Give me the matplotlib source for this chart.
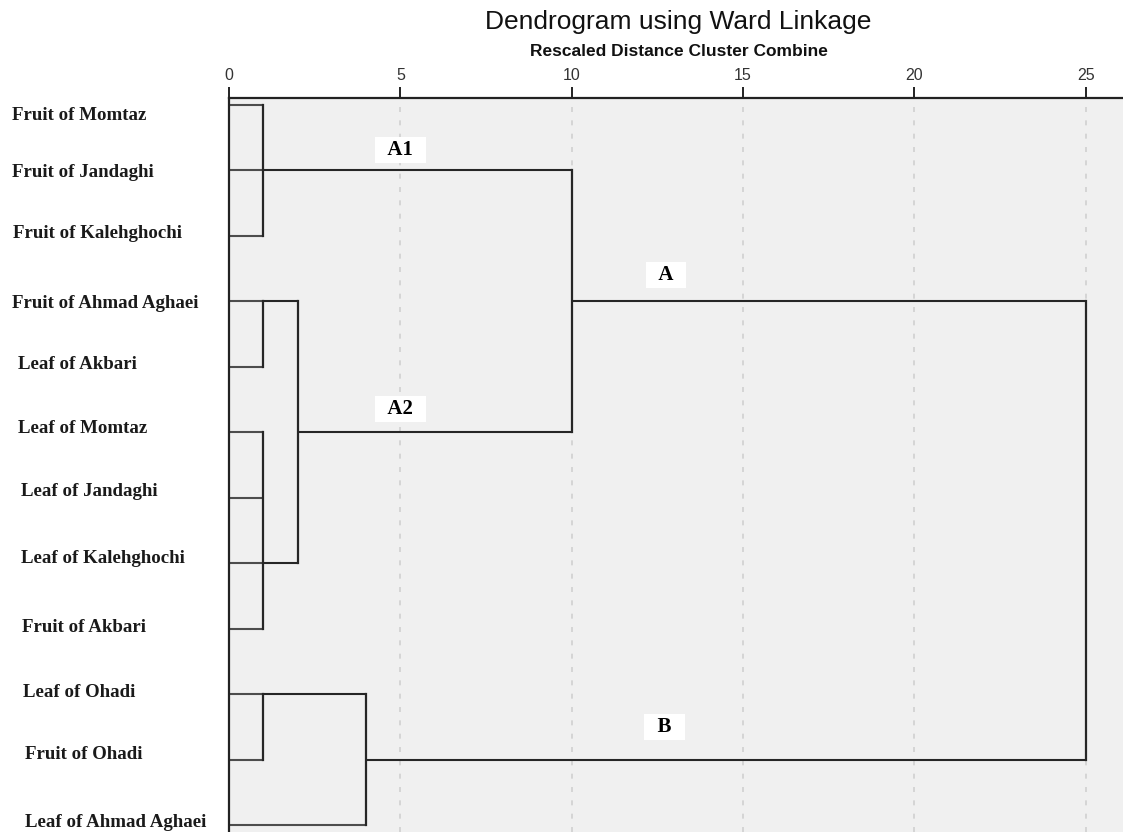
import numpy as np
import matplotlib
matplotlib.use("Agg")
import matplotlib.pyplot as plt

# leaves, top to bottom
leaves = ["Fruit of Momtaz", "Fruit of Jandaghi", "Fruit of Kalehghochi",
          "Fruit of Ahmad Aghaei", "Leaf of Akbari", "Leaf of Momtaz",
          "Leaf of Jandaghi", "Leaf of Kalehghochi", "Fruit of Akbari",
          "Leaf of Ohadi", "Fruit of Ohadi", "Leaf of Ahmad Aghaei"]

# merges: children ("L" leaf / "C" cluster, index), rescaled distance, row of the joining line
merge_children = [
    [("L", 0), ("L", 1), ("L", 2)],
    [("L", 3), ("L", 4)],
    [("L", 5), ("L", 6), ("L", 7), ("L", 8)],
    [("C", 1), ("C", 2)],
    [("C", 0), ("C", 3)],
    [("L", 9), ("L", 10)],
    [("C", 5), ("L", 11)],
    [("C", 4), ("C", 6)],
]
merge_height = [1, 1, 1, 2, 10, 1, 4, 25]
merge_row = [1, 3, 7, 5, 3, 9, 10, 6]

cluster_names = ["A1", "A2", "A", "B"]
cluster_of = [0, 3, 4, 6]   # which merge each name labels

xticks = [0, 5, 10, 15, 20, 25]

# layout nudges
label_dx = [12, 12, 13, 12, 18, 18, 21, 21, 22, 23, 25, 25]
label_dy = [11, 2, -2, 2, -2, -4, -6, -5, -1, -2, -5, -2]
name_x = [5.0, 5.0, 12.75, 12.7]
name_dy = [-0.31, -0.35, -0.40, -0.50]

W, H = 1123, 832
fig = plt.figure(figsize=(W / 100, H / 100), dpi=100)
ax_left, ax_top = 229, 98
ax = fig.add_axes([ax_left / W, 0, 1 - ax_left / W, 1 - ax_top / H])
ax.set_facecolor("#f0f0f0")

row0, rowstep = 105, 65.45
ax.set_ylim((H - row0) / rowstep, (ax_top - row0) / rowstep)
ax.set_xlim(0, (W - ax_left) / 34.27)

for t in xticks[1:]:
    ax.axvline(t, color="#d0d0d0", lw=1.2, ls=(0, (3, 5)), zorder=0)

line_c = "#262626"
leaf_c = "#4d4d4d"
for m, kids in enumerate(merge_children):
    h = merge_height[m]
    rows = []
    for kind, k in kids:
        if kind == "L":
            r, start, col = k, 0, leaf_c
        else:
            r, start, col = merge_row[k], merge_height[k], line_c
        rows.append(r)
        ax.plot([start, h], [r, r], color=col, lw=1.5, solid_capstyle="butt", zorder=2)
    ax.plot([h, h], [min(rows), max(rows)], color=line_c, lw=1.6,
            solid_capstyle="projecting", zorder=2)

# cluster names above their joining lines
for i, (name, m) in enumerate(zip(cluster_names, cluster_of)):
    ax.text(name_x[i], merge_row[m] + name_dy[i], "  " + name + "  ", ha="center",
            va="center", fontsize=15, fontweight="bold", family="Liberation Serif",
            bbox=dict(boxstyle="square,pad=0.15", fc="white", ec="none"), zorder=3)

for i, name in enumerate(leaves):
    fig.text(label_dx[i] / W, 1 - (row0 + rowstep * i + label_dy[i]) / H, name,
             ha="left", va="center", fontsize=13.6, fontweight="bold",
             family="Liberation Serif", color="#1a1a1a")

ax.xaxis.tick_top()
ax.set_xticks(xticks)
ax.set_xticklabels([str(t) for t in xticks], fontsize=11.5, family="Liberation Sans",
                   color="#333333")
ax.tick_params(axis="x", direction="out", length=8, width=1.4, color="#222222", pad=3)
ax.set_yticks([])
for s in ["right", "bottom"]:
    ax.spines[s].set_visible(False)
ax.spines["top"].set_linewidth(1.6)
ax.spines["left"].set_linewidth(1.6)
ax.spines["top"].set_color("#222222")
ax.spines["left"].set_color("#222222")

fig.text(678 / W, 1 - 22 / H, "Dendrogram using Ward Linkage", ha="center", va="center",
         fontsize=19, family="Liberation Sans", color="#111111")
fig.text(679 / W, 1 - 51 / H, "Rescaled Distance Cluster Combine", ha="center",
         va="center", fontsize=12.5, fontweight="bold", family="Liberation Sans",
         color="#111111")

fig.savefig("out.png", dpi=100)
